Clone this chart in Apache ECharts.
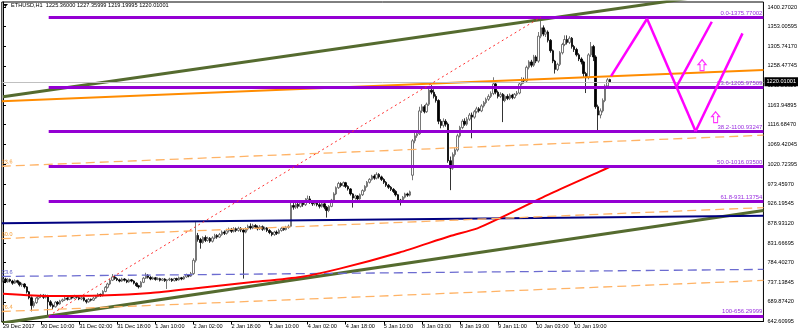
<!DOCTYPE html>
<html><head><meta charset="utf-8">
<script src="https://cdn.jsdelivr.net/npm/echarts@6/dist/echarts.min.js"></script>
<style>html,body{margin:0;padding:0;background:#fff}#c{width:800px;height:336px}</style>
</head><body><div id="c"></div>
<script>
// ---------------- data ----------------
const titleText = "ETHUSD,H1  1225.36000 1227.35999 1219.19995 1220.01001";
const timeLabels = ["29 Dec 2017","30 Dec 10:00","31 Dec 02:00","31 Dec 18:00","1 Jan 10:00","2 Jan 02:00","2 Jan 18:00","3 Jan 10:00","4 Jan 02:00","4 Jan 18:00","5 Jan 10:00","8 Jan 03:00","8 Jan 19:00","9 Jan 11:00","10 Jan 03:00","10 Jan 19:00"];
const yTickLabels = ["642.60995","689.87420","737.13845","784.40270","831.66695","878.93120","926.19545","973.45970","1020.72395","1069.42045","1116.68470","1163.94895","1211.21320","1258.47745","1305.74170","1353.00595","1400.27020"];
// hourly bars [open, close, low, high]
const bars = [
[742,745,737,749],[745,738,735,748],[738,744,736,747],[744,740,737,746],[740,735,731,743],
[735,741,733,744],[741,737,734,743],[737,731,727,739],[731,733,726,736],[733,726,722,735],
[726,714,710,728],[714,700,696,716],[700,681,667,703],[681,688,676,692],[688,699,685,702],
[699,703,695,706],[703,706,699,709],[706,701,697,708],[701,705,698,708],[705,690,656.3,707],
[690,682,678,694],[682,678,672,686],[678,689,676,692],[689,685,681,692],[685,692,683,695],
[692,695,689,698],[695,699,692,702],[699,696,693,701],[696,702,694,705],[702,699,696,704],
[699,704,697,707],[704,701,698,706],[701,697,694,703],[697,700,694,703],[700,694,691,702],
[694,690,686,696],[690,696,688,699],[696,694,691,698],[694,699,692,702],[699,703,697,706],
[703,708,701,711],[708,705,702,710],[705,715,703,718],[715,725,713,728],[725,733,722,736],
[733,742,730,745],[742,750,740,757],[750,746,743,753],[746,743,740,749],[743,740,737,746],
[740,745,738,748],[745,742,739,747],[742,738,735,744],[738,743,736,746],[743,740,737,745],
[740,735,732,742],[735,729,726,737],[729,726,722,731],[726,737,724,740],[737,747,735,750],
[747,754,745,760],[754,749,746,757],[749,745,742,752],[745,748,743,751],[748,744,741,750],
[744,746,742,749],[746,742,739,748],[742,745,740,747],[745,741,738,747],[741,743,721,745],
[743,745,740,748],[745,741,738,747],[741,746,739,748],[746,743,740,748],[743,748,741,751],
[748,745,742,750],[745,750,743,752],[750,755,748,758],[755,752,749,757],[752,758,750,762],
[758,790,755,795],[790,850,785,882],[850,840,835,856],[840,833,818,844],[833,845,830,848],
[845,838,834,850],[838,843,835,847],[843,836,832,846],[836,844,833,848],[844,850,841,854],
[850,846,842,853],[846,852,844,856],[852,858,849,862],[858,855,851,862],[855,861,852,866],
[861,865,857,869],[865,860,856,868],[860,866,857,870],[866,862,858,869],[862,867,859,871],
[867,863,858,870],[863,858,746,866],[858,866,855,870],[866,872,862,876],[872,868,864,879],
[868,874,865,878],[874,870,866,877],[870,866,862,874],[866,871,863,875],[871,865,861,874],
[865,868,862,871],[868,862,858,870],[862,857,853,865],[857,852,848,860],[852,858,849,861],
[858,855,851,862],[855,862,853,866],[862,867,859,870],[867,864,861,870],[864,869,862,873],
[869,872,866,876],[872,922,870,931],[922,918,912,928],[918,925,914,930],[925,920,915,929],
[920,928,917,932],[928,924,919,934],[924,932,921,940],[932,938,929,946],[938,930,926,945],
[930,926,921,935],[926,931,922,934],[931,924,920,933],[924,920,915,928],[920,926,917,929],
[926,918,913,928],[918,910,893,921],[910,920,906,923],[920,935,918,938],[935,950,932,954],
[950,965,947,968],[965,975,962,979],[975,970,966,978],[970,977,967,980],[977,968,964,979],
[968,962,958,971],[962,950,946,964],[950,940,917,952],[940,945,936,948],[945,938,934,947],
[938,948,936,951],[948,958,945,961],[958,968,955,971],[968,978,965,981],[978,985,975,988],
[985,993,982,996],[993,988,984,997],[988,997,985,1002],[997,991,987,1000],[991,985,981,994],
[985,978,974,988],[978,971,967,981],[971,966,962,974],[966,961,957,969],[961,956,952,964],
[956,948,944,959],[948,935,931,950],[935,930,922,938],[930,942,928,945],[942,950,939,953],
[950,947,943,953],[947,955,944,958],[995,1078,983,1082],[1078,1090,1072,1098],[1090,1095,1085,1100],
[1095,1150,1092,1160],[1150,1160,1145,1166],[1160,1148,1144,1164],[1148,1166,1145,1170],[1166,1200,1162,1210],
[1200,1195,1190,1212],[1195,1185,1180,1202],[1185,1175,1170,1190],[1175,1125,1118,1178],[1125,1115,1108,1130],
[1115,1125,1110,1132],[1125,1118,1112,1130],[1118,1030,1025,1122],[1030,1012,959,1040],[1012,1045,1008,1050],
[1045,1056,1040,1062],[1056,1090,1052,1095],[1090,1110,1086,1114],[1110,1125,1106,1130],[1125,1118,1114,1132],
[1118,1130,1114,1135],[1130,1140,1126,1145],[1140,1135,1084,1146],[1135,1148,1131,1152],[1148,1155,1144,1160],
[1155,1150,1146,1159],[1150,1162,1147,1166],[1162,1170,1158,1174],[1170,1178,1166,1182],[1178,1185,1174,1190],
[1185,1192,1181,1197],[1192,1215,1188,1231],[1215,1195,1190,1218],[1195,1185,1180,1199],[1185,1190,1181,1195],
[1190,1175,1123,1193],[1175,1185,1171,1189],[1185,1180,1176,1190],[1180,1188,1176,1192],[1188,1182,1178,1191],
[1182,1190,1179,1193],[1190,1193,1186,1198],[1193,1215,1190,1219],[1215,1225,1211,1231],[1225,1222,1216,1230],
[1222,1255,1219,1259],[1255,1268,1250,1272],[1268,1260,1255,1273],[1260,1280,1256,1285],[1280,1270,1265,1284],
[1270,1330,1266,1340],[1330,1350,1325,1375.77],[1350,1335,1330,1356],[1335,1340,1328,1346],[1340,1320,1315,1344],
[1320,1295,1290,1323],[1295,1270,1265,1298],[1270,1250,1240,1273],[1250,1262,1246,1266],[1262,1290,1258,1294],
[1290,1310,1286,1314],[1310,1322,1306,1332],[1322,1315,1310,1332],[1315,1325,1311,1330],[1325,1305,1300,1328],
[1305,1298,1292,1309],[1298,1285,1281,1302],[1285,1275,1270,1289],[1275,1268,1262,1279],[1268,1240,1232,1271],
[1240,1230,1193,1244],[1230,1285,1226,1289],[1285,1305,1280,1316],[1305,1280,1270,1309],[1280,1160,1155,1284],
[1160,1140,1099,1165],[1140,1150,1132,1156],[1150,1175,1146,1180],[1175,1210,1171,1214],[1210,1225,1206,1229],
[1225.36,1220.01001,1219.19995,1227.35999]
];
const currentPrice = 1220.01001;
// moving average (read at a few bars) [barIndex, price]
const maPoints = [[0,709.5],[20,704],[41,705],[62,711],[83,724],[104,737],[125,750],[141.5,770],[166.6,809],[187.6,848],[199.3,867],[208.5,891],[229.4,949],[250.4,1003],[255,1015]];
// Fibonacci retracement
const fibStart = [19.2, 656.29999];
const fibEnd = [226, 1375.77002];
const fibPrices = [1375.77002,1205.97509,1100.93247,1016.03500,931.13754,656.29999];
const fibLabels = ["0.0-1375.77002","23.6-1205.97509","38.2-1100.93247","50.0-1016.03500","61.8-931.13754","100-656.29999"];
// trend lines [barIndex, price] pairs
const greenUpper = [[0,1183.8],[319.5,1447]];
const greenLower = [[-0.5,638.8],[319.5,910]];
const navyLine = [[-0.5,879.1],[319.5,897.2]];
const blueDash = [[-0.5,751.2],[319.5,768.1]];
const orangeBase = [[-0.5,1173.5],[319.5,1248.3]];
const orangeLevels = [[1016.6,1091.4],[842.2,917.0],[666.7,741.5]];
const orangeLevelLabels = ["23.6","50.0","76.4"];
const pinkLines = [
  [[255.5,1233.8],[270.6,1372]],
  [[270.6,1372],[291.0,1100.9]],
  [[282.8,1206.5],[297.8,1364.8]],
  [[291.0,1100.9],[310.7,1336.8]]
];
const arrows = [[293.7,1260.3],[299.4,1134.9]];

// ---------------- chart ----------------
const N = 320;
const FONT = '"Liberation Sans Narrow","Liberation Sans",Arial,sans-serif';
const FS = 5.6;
const cats = Array.from({length:N}, (_, i) => 'c' + i);
const showLab = (i) => i % 16 === 0 && i / 16 < timeLabels.length;

const series = [];
series.push({
  type:'candlestick', xAxisIndex:0, yAxisIndex:0, data: bars, barWidth: 2, silent:true, z:2,
  itemStyle:{color:'#ffffff', color0:'#000', borderColor:'#555', borderColor0:'#000', borderWidth:0.8}
});
function seg(pts, style, z){
  return {type:'line', xAxisIndex:1, yAxisIndex:0, data:pts, symbol:'none', silent:true, z:z||3, lineStyle:style};
}
series.push(seg(greenUpper, {color:'#556B2F', width:3}));
series.push(seg(greenLower, {color:'#556B2F', width:3}));
series.push(seg(navyLine, {color:'#000080', width:2}));
series.push(seg(blueDash, {color:'#6b6bd0', width:1.3, type:[9,5]}));
series.push(seg(orangeBase, {color:'#FF8C00', width:2}));
series.push({
  type:'line', xAxisIndex:1, yAxisIndex:0, data: [], symbol:'none', silent:true, z:3,
  markLine:{silent:true, symbol:['none','none'], animation:false,
    lineStyle:{color:'#FFB366', width:1.3, type:[9,5]},
    label:{show:true, position:'insideStartTop', distance:[0,1], fontSize:FS, fontFamily:FONT, color:'#f59a30',
      formatter:(p)=>orangeLevelLabels[p.dataIndex]},
    data: orangeLevels.map(v => [{coord:[-0.5, v[0]]},{coord:[319.5, v[1]]}])}
});
// label of the blue dashed level
series.push({
  type:'line', xAxisIndex:1, yAxisIndex:0, data: [], symbol:'none', silent:true, z:3,
  markLine:{silent:true, symbol:['none','none'], animation:false,
    lineStyle:{color:'rgba(0,0,0,0)', width:0},
    label:{show:true, position:'insideStartTop', distance:[0,1], fontSize:FS, fontFamily:FONT, color:'#5a5ac8', formatter:'23.6'},
    data:[[{coord:blueDash[0]},{coord:blueDash[1]}]]}
});
series.push(seg(maPoints, {color:'#ff0000', width:2}, 4));
series[series.length-1].smooth = 0.2;
// Fibonacci
series.push({
  type:'line', xAxisIndex:1, yAxisIndex:0, data:[fibStart, fibEnd], symbol:'none', silent:true, z:5,
  lineStyle:{color:'#ff3030', width:1, type:[2,3]},
  markLine:{silent:true, symbol:['none','none'], animation:false,
    lineStyle:{color:'#9400D3', width:3, type:'solid'},
    label:{show:true, position:'insideEndTop', distance:[1,1], fontSize:6, fontFamily:FONT, color:'#9a30e0',
      formatter:(p)=>fibLabels[p.dataIndex]},
    data: fibPrices.map(p => [{coord:[fibStart[0], p]},{coord:[319.5, p]}])}
});
// current price line
series.push({
  type:'line', xAxisIndex:1, yAxisIndex:0, data:[], symbol:'none', silent:true, z:1,
  markLine:{silent:true, symbol:['none','none'], animation:false,
    lineStyle:{color:'#c0c0c0', width:1, type:'solid'},
    label:{show:true, position:'end', distance:1, formatter:'1220.01001', backgroundColor:'#000', color:'#fff',
      padding:[2,2,1,2], fontSize:FS, fontFamily:FONT},
    data:[{yAxis: currentPrice}]}
});
pinkLines.forEach(l => series.push(seg(l, {color:'#ff00ff', width:2.5}, 6)));
series.push({
  type:'scatter', xAxisIndex:1, yAxisIndex:0, data: arrows, silent:true, z:6,
  symbol:'path://M4,0 L8,5 L6,5 L6,11 L2,11 L2,5 L0,5 Z', symbolSize:[8,11],
  itemStyle:{color:'#fff', borderColor:'#ff00ff', borderWidth:1.2}
});

const option = {
  animation:false,
  backgroundColor:'#fff',
  grid:{left:1, right:35, top:2, bottom:14.5, show:true, borderColor:'#000', borderWidth:1, backgroundColor:'#fff'},
  xAxis:[
    {type:'category', data:cats, boundaryGap:true,
     axisLine:{show:true, lineStyle:{color:'#000'}},
     axisTick:{show:true, alignWithLabel:true, interval:(i)=>showLab(i), length:3, lineStyle:{color:'#000'}},
     axisLabel:{show:true, interval:(i)=>showLab(i), align:'left', margin:2, fontSize:FS, fontFamily:FONT, color:'#000',
       formatter:(v)=>{const i=+String(v).slice(1); return showLab(i)? timeLabels[i/16] : '';}},
     splitLine:{show:false}},
    {type:'value', min:-0.5, max:319.5, show:false}
  ],
  yAxis:{type:'value', position:'right', min:642.60995, max:1412.33, scale:true,
    axisLine:{show:true, lineStyle:{color:'#000'}},
    axisTick:{show:true, length:3, lineStyle:{color:'#000'}, customValues: yTickLabels.map(Number)},
    axisLabel:{show:true, margin:4, fontSize:FS, fontFamily:FONT, color:'#000', customValues: yTickLabels.map(Number),
      formatter:(v)=>{const k=yTickLabels.findIndex(s=>Math.abs(Number(s)-v)<0.01); return k>=0?yTickLabels[k]:'';}},
    splitLine:{show:false}},
  graphic:[
    {type:'polygon', shape:{points:[[3,4],[8,4],[5.5,7]]}, style:{fill:'#000'}},
    {type:'text', x:11, y:2, style:{text:titleText, fontSize:FS, fontFamily:FONT, fill:'#000'}}
  ],
  series
};
const chart = echarts.init(document.getElementById('c'));
chart.setOption(option);
</script></body></html>
